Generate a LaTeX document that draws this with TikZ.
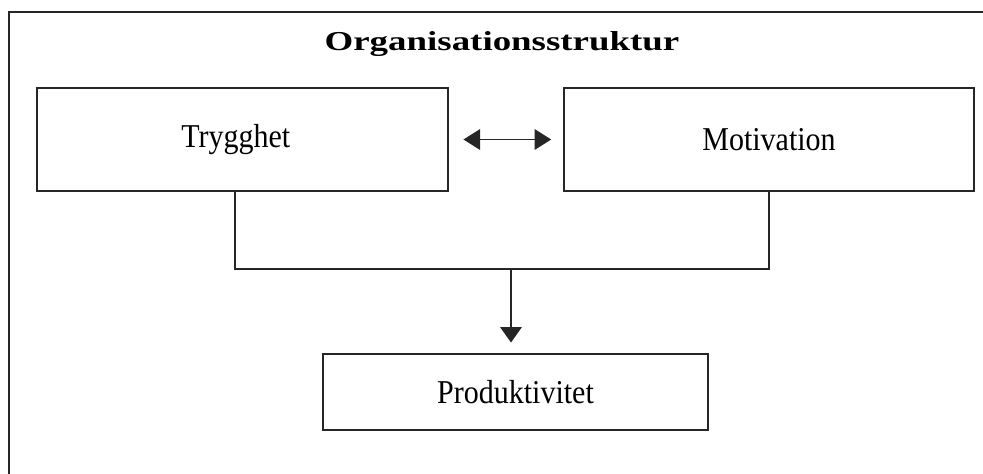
\documentclass[tikz,border=0pt]{standalone}
\usepackage{fontspec}
\setmainfont{Liberation Serif}
\newfontfamily\titlefont[FakeStretch=1.35]{Liberation Serif}
\newfontfamily\boxfont[FakeStretch=0.9]{Liberation Serif}
\usetikzlibrary{arrows.meta}
\begin{document}
\begin{tikzpicture}[x=0.75pt,y=-0.75pt,
  line/.style={draw=black!85,line width=1.2pt},
  stepbox/.style={line,rectangle,inner sep=0pt,
    font=\boxfont\fontsize{25pt}{28pt}\selectfont},
  head/.style={-{Triangle[length=11.5pt,width=16pt]}}]
  \useasboundingbox (0,0) rectangle (983,474);
  % outer frame (open at the right and bottom)
  \draw[line,line width=1.4pt] (9,480) -- (9,12) -- (990,12);
  % title
  \node[anchor=base,font=\titlefont\bfseries\fontsize{20.5pt}{24pt}\selectfont]
    (title) at (502,51) {Organisationsstruktur};
  % boxes
  \node[stepbox,minimum width=411*0.75pt,minimum height=103*0.75pt]
    (tr) at (242.5,139.5) {\hspace*{-10pt}Trygghet};
  \node[stepbox,minimum width=410*0.75pt,minimum height=103*0.75pt]
    (mo) at (769,139.5) {Motivation};
  \node[stepbox,minimum width=385*0.75pt,minimum height=76*0.75pt]
    (pr) at (515.5,392) {Produktivitet};
  % junction of the two branches
  \coordinate (j) at (511,269);
  % connectors
  \draw[line,{Triangle[length=12.5pt,width=15.5pt]}-{Triangle[length=12.5pt,width=15.5pt]},
        shorten <=11pt,shorten >=9pt] (tr.east) -- (mo.west);
  \draw[line] ([xshift=-5.5pt]tr.south) |- (j) -| (mo.south);
  \draw[line,head,shorten >=8pt] (j) -- (j |- pr.north);
\end{tikzpicture}
\end{document}
